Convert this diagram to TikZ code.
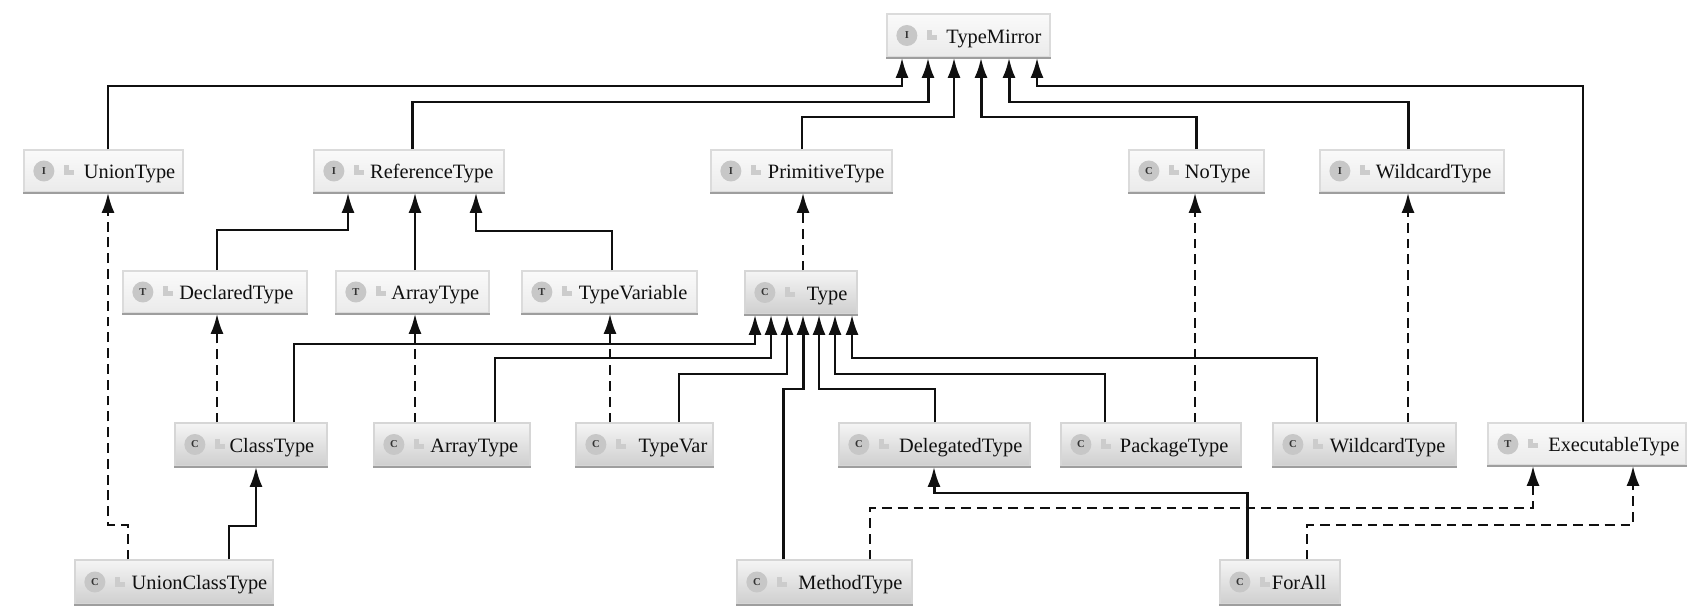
\documentclass[tikz,border=0pt]{standalone}
\usepackage{fontspec}
\setmainfont{Liberation Serif}
\usetikzlibrary{arrows.meta,fit,calc}
\definecolor{inkc}{HTML}{101010}
\tikzset{
  lightbox/.style={inner sep=0pt,draw=black!14,line width=0.7pt,top color=black!2,bottom color=black!8},
  darkbox/.style={inner sep=0pt,draw=black!16,line width=0.7pt,top color=black!4,bottom color=black!19},
  edgeshade/.style={draw=black!38,line width=1.2pt},
  iconc/.style={circle,fill=black!22,minimum size=0.42cm,inner sep=0pt,font=\fontsize{6}{7}\selectfont\bfseries,text=black!80},
  lockc/.style={fill=black!20,minimum width=0.11cm,minimum height=0.1cm,inner sep=0pt},
  lbl/.style={anchor=east,inner sep=0pt,text height=8.5pt,text depth=2.8pt,text=inkc,font=\fontsize{11.6}{13}\selectfont},
  inh/.style={draw=inkc,line width=1.6pt,-{Latex[length=11.5pt,width=7.4pt]}},
  heavy/.style={inh,line width=1.7pt},
  impl/.style={inh,dash pattern=on 5.6pt off 3.4pt},
}
\newcommand{\cls}[9]{%
  \node[#8,fit={(#2,#3) (#4,#5)}] (#1) {};
  \draw[edgeshade] (#1.south west) -- (#1.south east);
  \node[iconc] (#1-i) at ([xshift=0.41cm]#1.west) {#6};
  \node[lockc] (#1-l) at ([xshift=0.86cm,yshift=0.06cm]#1.west) {};
  \node[lockc,minimum width=0.2cm] (#1-m) at ([xshift=0.92cm,yshift=-0.04cm]#1.west) {};
  \node[lbl] (#1-t) at ([xshift=-#9*0.02cm,yshift=-0.05cm]#1.east) {#7};
}
\begin{document}
\begin{tikzpicture}[x=0.02cm,y=-0.02cm]
\useasboundingbox[fill=white] (0,0) rectangle (1706,614);
\cls{mirror}{887}{14}{1050}{57}{I}{TypeMirror}{lightbox}{9}
\cls{union}{24}{150}{183}{192}{I}{UnionType}{lightbox}{8}
\cls{ref}{314}{150}{504}{192}{I}{ReferenceType}{lightbox}{11}
\cls{prim}{711}{150}{892}{192}{I}{PrimitiveType}{lightbox}{8}
\cls{notype}{1129}{150}{1264}{192}{C}{NoType}{lightbox}{14}
\cls{wildi}{1320}{150}{1504}{192}{I}{WildcardType}{lightbox}{13}
\cls{decl}{123}{271}{307}{313}{T}{DeclaredType}{lightbox}{14}
\cls{arri}{336}{271}{489}{313}{T}{ArrayType}{lightbox}{10}
\cls{tvar}{522}{271}{697}{313}{T}{TypeVariable}{lightbox}{10}
\cls{type}{745}{271}{857}{314}{C}{Type}{darkbox}{10}
\cls{classt}{175}{423}{327}{466}{C}{ClassType}{darkbox}{13}
\cls{arrc}{374}{423}{530}{466}{C}{ArrayType}{darkbox}{12}
\cls{typev}{576}{423}{713}{466}{C}{TypeVar}{darkbox}{6}
\cls{deleg}{839}{423}{1030}{466}{C}{DelegatedType}{darkbox}{8}
\cls{pack}{1061}{423}{1241}{466}{C}{PackageType}{darkbox}{13}
\cls{wildc}{1273}{423}{1456}{466}{C}{WildcardType}{darkbox}{11}
\cls{exec}{1488}{423}{1686}{465}{T}{ExecutableType}{lightbox}{7}
\cls{unionc}{75}{560}{273}{604}{C}{UnionClassType}{darkbox}{6}
\cls{method}{737}{560}{912}{604}{C}{MethodType}{darkbox}{10}
\cls{forall}{1220}{560}{1340}{604}{C}{ForAll}{darkbox}{14}
% to TypeMirror
\draw[inh] (108,0 |- union.north) |- (902,86) -- (902,0 |- mirror.south);
\draw[heavy] (412,0 |- ref.north) |- (928,102) -- (928,0 |- mirror.south);
\draw[inh] (802,0 |- prim.north) |- (954,117) -- (954,0 |- mirror.south);
\draw[heavy] (1196,0 |- notype.north) |- (981,117) -- (981,0 |- mirror.south);
\draw[heavy] (1408,0 |- wildi.north) |- (1009,102) -- (1009,0 |- mirror.south);
\draw[inh] (1583,0 |- exec.north) |- (1037,86) -- (1037,0 |- mirror.south);
% to ReferenceType
\draw[inh] (217,0 |- decl.north) |- (348,230) -- (348,0 |- ref.south);
\draw[inh] (415,0 |- arri.north) -- (415,0 |- ref.south);
\draw[inh] (612,0 |- tvar.north) |- (476,231) -- (476,0 |- ref.south);
% to Type
\draw[inh] (294,0 |- classt.north) |- (755,344) -- (755,0 |- type.south);
\draw[inh] (495,0 |- arrc.north) |- (771,358) -- (771,0 |- type.south);
\draw[inh] (679,0 |- typev.north) |- (787,374) -- (787,0 |- type.south);
\draw[heavy] (783,0 |- method.north) |- (803,389) -- (803,0 |- type.south);
\draw[inh] (935,0 |- deleg.north) |- (819,389) -- (819,0 |- type.south);
\draw[inh] (1105,0 |- pack.north) |- (835,374) -- (835,0 |- type.south);
\draw[inh] (1317,0 |- wildc.north) |- (852,358) -- (852,0 |- type.south);
% other solid
\draw[heavy] (229,0 |- unionc.north) |- (256,526) -- (256,0 |- classt.south);
\draw[heavy] (1247,0 |- forall.north) |- (934,493) -- (934,0 |- deleg.south);
% dashed
\draw[impl] (803,0 |- type.north) -- (803,0 |- prim.south);
\draw[impl] (217,0 |- classt.north) -- (217,0 |- decl.south);
\draw[impl] (415,0 |- arrc.north) -- (415,0 |- arri.south);
\draw[impl] (610,0 |- typev.north) -- (610,0 |- tvar.south);
\draw[impl] (1195,0 |- pack.north) -- (1195,0 |- notype.south);
\draw[impl] (1408,0 |- wildc.north) -- (1408,0 |- wildi.south);
\draw[impl] (128,0 |- unionc.north) |- (108,525) -- (108,0 |- union.south);
\draw[impl] (870,0 |- method.north) |- (1533,508) -- (1533,0 |- exec.south);
\draw[impl] (1307,0 |- forall.north) |- (1633,525) -- (1633,0 |- exec.south);
\end{tikzpicture}
\end{document}
